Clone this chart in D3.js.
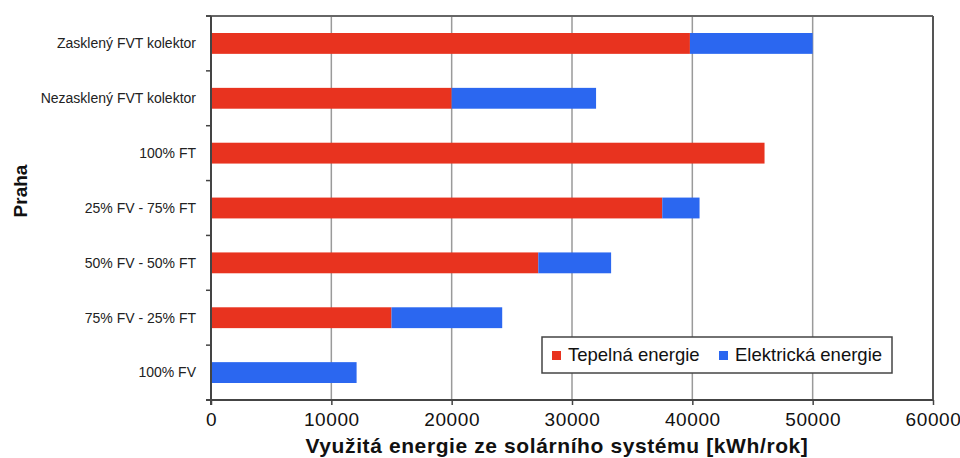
<!DOCTYPE html>
<html>
<head>
<meta charset="utf-8">
<script src="https://cdn.jsdelivr.net/npm/d3@7"></script>
<style>
  html, body { margin: 0; padding: 0; background: #fff; }
  svg { display: block; font-family: "Liberation Sans", Arial, Helvetica, sans-serif; }
</style>
</head>
<body>
<svg id="chart" width="960" height="458"></svg>
<script>
// Categories (top to bottom) and energy per system [kWh/rok]
const categories = [
  "Zasklený FVT kolektor",
  "Nezasklený FVT kolektor",
  "100% FT",
  "25% FV - 75% FT",
  "50% FV - 50% FT",
  "75% FV - 25% FT",
  "100% FV"
];
const tepelnaEnergie    = [39800, 20000, 46000, 37500, 27200, 15000, 0];
const elektrickaEnergie = [10200, 12000, 0, 3100, 6050, 9200, 12100];
const seriesNames = ["Tepelná energie", "Elektrická energie"];
const seriesColors = ["#e8331f", "#2b67f0"];
const xTicks = [0, 10000, 20000, 30000, 40000, 50000, 60000];

const svg = d3.select("#chart");
const margin = { left: 211, right: 27, top: 16, bottom: 58 };
const W = 960, H = 458;
const plotW = W - margin.left - margin.right;
const plotH = H - margin.top - margin.bottom;

const x = d3.scaleLinear().domain([0, 60000]).range([margin.left, margin.left + plotW]);
const y = d3.scaleBand().domain(categories)
  .range([margin.top, margin.top + plotH])
  .paddingInner(0.62).paddingOuter(0.31);

const rows = categories.map((c, i) => ({
  cat: c,
  [seriesNames[0]]: tepelnaEnergie[i],
  [seriesNames[1]]: elektrickaEnergie[i]
}));
const stacked = d3.stack().keys(seriesNames)(rows);

// Vertical gridlines
svg.append("g").selectAll("line")
  .data(xTicks.filter(t => t > 0 && t < 60000))
  .join("line")
  .attr("x1", d => x(d)).attr("x2", d => x(d))
  .attr("y1", margin.top).attr("y2", margin.top + plotH)
  .attr("stroke", "#9a9a9a").attr("stroke-width", 1.5);

// Stacked bars
svg.append("g").selectAll("g")
  .data(stacked)
  .join("g")
  .attr("fill", (d, i) => seriesColors[i])
  .selectAll("rect")
  .data(d => d.map(v => ({ v, cat: v.data.cat })))
  .join("rect")
  .attr("x", d => x(d.v[0]))
  .attr("y", d => y(d.cat))
  .attr("width", d => Math.max(0, x(d.v[1]) - x(d.v[0])))
  .attr("height", y.bandwidth());

// Frame: top and right border
svg.append("line")
  .attr("x1", margin.left - 5).attr("x2", x(60000))
  .attr("y1", margin.top).attr("y2", margin.top)
  .attr("stroke", "#666").attr("stroke-width", 2);
svg.append("line")
  .attr("x1", x(60000)).attr("x2", x(60000))
  .attr("y1", margin.top).attr("y2", margin.top + plotH)
  .attr("stroke", "#555").attr("stroke-width", 2);

// X axis
const xAxis = svg.append("g")
  .attr("transform", `translate(0,${margin.top + plotH})`)
  .call(d3.axisBottom(x).tickValues(xTicks).tickFormat(d3.format("d")).tickSize(5).tickSizeOuter(0));
xAxis.select(".domain").attr("stroke", "#444").attr("stroke-width", 2)
  .attr("d", `M${margin.left - 5},0H${x(60000)}`);
xAxis.selectAll(".tick line").attr("stroke", "#444").attr("stroke-width", 1.5);
xAxis.selectAll(".tick text")
  .attr("font-size", 19).attr("fill", "#111").attr("dy", "0.71em").attr("y", 13)
  .attr("letter-spacing", 0.6);

// Y axis: ticks at category boundaries
const yAxisG = svg.append("g");
yAxisG.append("line")
  .attr("x1", margin.left).attr("x2", margin.left)
  .attr("y1", margin.top).attr("y2", margin.top + plotH + 5)
  .attr("stroke", "#444").attr("stroke-width", 2);
const boundaries = d3.range(categories.length + 1).map(i => margin.top + i * y.step());
yAxisG.selectAll("line.tick")
  .data(boundaries)
  .join("line").attr("class", "tick")
  .attr("x1", margin.left - 5).attr("x2", margin.left)
  .attr("y1", d => d).attr("y2", d => d)
  .attr("stroke", "#444").attr("stroke-width", 1.5);
yAxisG.selectAll("text")
  .data(categories)
  .join("text")
  .attr("x", 196)
  .attr("y", d => y(d) + y.bandwidth() / 2)
  .attr("dy", "0.35em")
  .attr("text-anchor", "end")
  .attr("font-size", 14)
  .attr("fill", "#222")
  .text(d => d);

// Axis titles
svg.append("text")
  .attr("x", (x(0) + x(60000)) / 2 - 15)
  .attr("y", 453)
  .attr("text-anchor", "middle")
  .attr("font-size", 21).attr("font-weight", "bold")
  .attr("letter-spacing", 0.6)
  .attr("fill", "#111")
  .text("Využitá energie ze solárního systému [kWh/rok]");
svg.append("text")
  .attr("transform", "translate(27,191) rotate(-90)")
  .attr("text-anchor", "middle")
  .attr("font-size", 19).attr("font-weight", "bold")
  .attr("fill", "#111")
  .text("Praha");

// Legend
const legend = svg.append("g").attr("transform", "translate(542,337)");
legend.append("rect")
  .attr("width", 350).attr("height", 36)
  .attr("fill", "#fff").attr("stroke", "#444").attr("stroke-width", 1.5);
const legendX = [10, 177];
seriesNames.forEach((name, i) => {
  const g = legend.append("g").attr("transform", `translate(${legendX[i]},0)`);
  g.append("rect").attr("x", 0).attr("y", 14).attr("width", 9).attr("height", 9)
    .attr("fill", seriesColors[i]);
  g.append("text").attr("x", 16).attr("y", 18).attr("dy", "0.35em")
    .attr("font-size", 18.5).attr("fill", "#111").text(name);
});
</script>
</body>
</html>
